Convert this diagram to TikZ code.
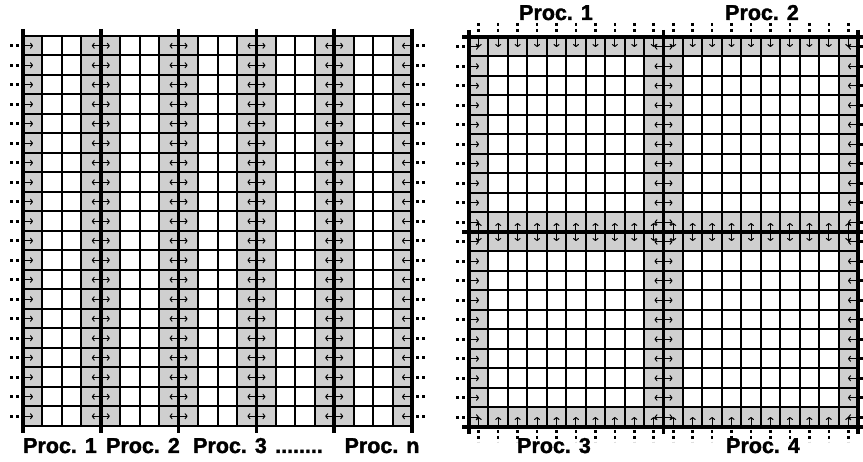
\documentclass[tikz,border=0pt]{standalone}
\usepackage{fontspec}
\setmainfont{Liberation Sans}
\newfontfamily\lblfont[BoldFeatures={FakeBold=1.6}]{Liberation Sans}
\usetikzlibrary{arrows.meta}

\tikzset{
  cellgrid/.style = {line width=2pt},
  procline/.style = {line width=3.5pt},
  halo/.style     = {fill=gray!38},
  xch/.style      = {-{To[length=3pt,width=6pt]}, line width=1pt},
  xchtwo/.style   = {{To[length=3pt,width=6pt]}-{To[length=3pt,width=6pt]}, line width=1pt},
  ghost/.style    = {line width=2.6pt, dash pattern=on 2.6pt off 3.4pt},
  proclbl/.style  = {font=\lblfont\bfseries\fontsize{21.5}{21.5}\selectfont, anchor=base, inner sep=0pt}
}

\begin{document}
\begin{tikzpicture}[x=1pt, y=-1pt]
  \useasboundingbox (0,0) rectangle (863,462);

  % strip decomposition (left)
  \foreach \c in {0,3,4,7,8,11,12,15,16,19}
    \fill[halo] (23+\c*19.45,36) rectangle ++(19.45,390);
  \foreach \i in {0,...,20} {
    \draw[cellgrid] (23+\i*19.45,36) -- (23+\i*19.45,426);
    \draw[cellgrid] (23,36+\i*19.5) -- (412,36+\i*19.5);
  }
  \foreach \k in {0,...,5}
    \draw[procline] (23+\k*77.8,29) -- (23+\k*77.8,433);
  \foreach \r in {0,...,19} {
    \pgfmathsetmacro{\yy}{36+(\r+0.5)*19.5}
    \draw[ghost] (10,\yy) -- (21,\yy);
    \draw[xch] (23,\yy) -- (33,\yy);
    \foreach \k in {1,...,4}
      \draw[xchtwo] (14+\k*77.8,\yy) -- (32+\k*77.8,\yy);
    \draw[xch] (412,\yy) -- (402,\yy);
    \draw[ghost] (416,\yy) -- (427,\yy);
  }

  \node[proclbl] (lp1)   at (60,453)  {Proc. 1};
  \node[proclbl] (lp2)   at (143,453) {Proc. 2};
  \node[proclbl] (lp3)   at (230,453) {Proc. 3};
  \node[proclbl] (ldots) at (299,453) {........};
  \node[proclbl] (lpn)   at (382,453) {Proc. n};

  % block decomposition (right)
  \foreach \c in {0,9,10,19} {
    \fill[halo] (469+\c*19.45,37) rectangle ++(19.45,390);
    \fill[halo] (469,37+\c*19.5) rectangle ++(389,19.5);
  }
  \foreach \i in {0,...,20} {
    \draw[cellgrid] (469+\i*19.45,37) -- (469+\i*19.45,427);
    \draw[cellgrid] (469,37+\i*19.5) -- (858,37+\i*19.5);
  }
  \foreach \k in {0,1,2} {
    \draw[procline] (469+\k*194.5,30) -- (469+\k*194.5,434);
    \draw[procline] (462,37+\k*195) -- (865,37+\k*195);
  }
  \foreach \r in {0,...,19} {
    \pgfmathsetmacro{\yy}{37+(\r+0.5)*19.5}
    \draw[ghost] (456,\yy) -- (467,\yy);
    \draw[xch] (469,\yy) -- (479,\yy);
    \draw[xchtwo] (654.5,\yy) -- (672.5,\yy);
    \draw[xch] (858,\yy) -- (848,\yy);
    \draw[ghost] (860,\yy) -- (871,\yy);
  }
  \foreach \c in {0,...,19} {
    \pgfmathsetmacro{\xx}{469+(\c+0.5)*19.45}
    \draw[ghost] (\xx,23) -- (\xx,35);
    \draw[xch] (\xx,37) -- (\xx,47);
    \draw[xchtwo] (\xx,223) -- (\xx,241);
    \draw[xch] (\xx,427) -- (\xx,417);
    \draw[ghost] (\xx,430) -- (\xx,442);
  }

  \node[proclbl] (rp1) at (556,20)  {Proc. 1};
  \node[proclbl] (rp2) at (762,20)  {Proc. 2};
  \node[proclbl] (rp3) at (554,453) {Proc. 3};
  \node[proclbl] (rp4) at (763,453) {Proc. 4};
\end{tikzpicture}
\end{document}
